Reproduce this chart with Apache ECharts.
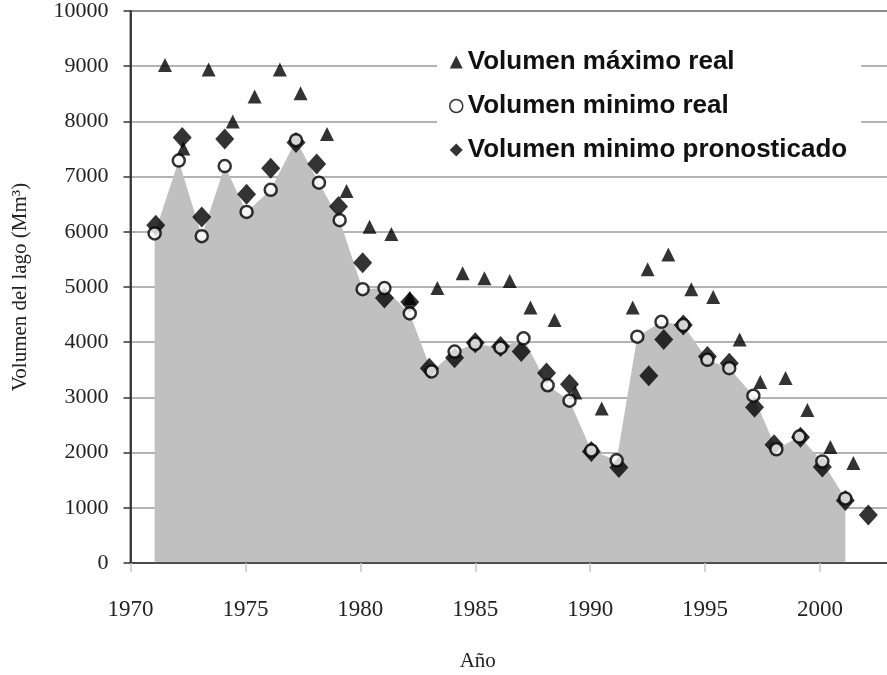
<!DOCTYPE html>
<html>
<head>
<meta charset="utf-8">
<script src="https://cdn.jsdelivr.net/npm/echarts@6/dist/echarts.min.js"></script>
<style>
  html, body { margin: 0; padding: 0; background: #fff; }
  #chart { width: 887px; height: 675px; }
</style>
</head>
<body>
<div id="chart"></div>
<script>
// Volumen máximo real (año decimal, Mm³)
const maxYears = [1971.5, 1972.3, 1973.4, 1974.45, 1975.4, 1976.5, 1977.4, 1978.55, 1979.4, 1980.4,
  1981.35, 1982.15, 1983.35, 1984.45, 1985.4, 1986.5, 1987.4, 1988.45, 1989.35, 1990.5,
  1991.85, 1992.5, 1993.4, 1994.4, 1995.35, 1996.5, 1997.4, 1998.5, 1999.45, 2000.45, 2001.45];
const maxValues = [9020, 7510, 8940, 8000, 8450, 8940, 8510, 7770, 6740, 6090,
  5960, 4800, 4980, 5250, 5160, 5110, 4630, 4400, 3090, 2800,
  4630, 5320, 5590, 4960, 4820, 4050, 3280, 3350, 2770, 2100, 1810];

// Volumen mínimo real
const minYears = [1971.05, 1972.1, 1973.1, 1974.1, 1975.05, 1976.1, 1977.2, 1978.2, 1979.1, 1980.1,
  1981.05, 1982.15, 1983.1, 1984.1, 1985.0, 1986.1, 1987.1, 1988.15, 1989.1, 1990.05,
  1991.15, 1992.05, 1993.1, 1994.05, 1995.1, 1996.05, 1997.1, 1998.1, 1999.1, 2000.1, 2001.1];
const minValues = [5970, 7290, 5920, 7190, 6360, 6760, 7660, 6890, 6210, 4960,
  4980, 4520, 3470, 3830, 3970, 3900, 4070, 3220, 2940, 2040,
  1860, 4100, 4370, 4310, 3680, 3530, 3030, 2060, 2290, 1840, 1170];

// Volumen mínimo pronosticado
const predYears = [1971.1, 1972.25, 1973.1, 1974.1, 1975.05, 1976.1, 1977.2, 1978.1, 1979.05, 1980.1,
  1981.05, 1982.15, 1983.0, 1984.1, 1985.0, 1986.1, 1987.0, 1988.1, 1989.1, 1990.05,
  1991.25, 1992.55, 1993.2, 1994.05, 1995.1, 1996.05, 1997.15, 1998.0, 1999.15, 2000.1,
  2001.1, 2002.1];
const predValues = [6120, 7710, 6270, 7680, 6680, 7150, 7620, 7230, 6460, 5440,
  4800, 4730, 3530, 3720, 3990, 3920, 3830, 3440, 3240, 2020,
  1730, 3390, 4050, 4310, 3740, 3620, 2820, 2140, 2280, 1740,
  1130, 870];

const pairs = (xs, ys) => xs.map((x, i) => [x, ys[i]]);
const maxData = pairs(maxYears, maxValues);
const minData = pairs(minYears, minValues);
const predData = pairs(predYears, predValues);

const serif = "'Liberation Serif', 'DejaVu Serif', serif";
const sans = "'Liberation Sans', Arial, sans-serif";

const chart = echarts.init(document.getElementById('chart'), null, { renderer: 'canvas' });
chart.setOption({
  animation: false,
  backgroundColor: '#fff',
  grid: {
    left: 130.5, right: -2, top: 11, bottom: 112,
    outerBoundsMode: 'none',
    containLabel: false,
    show: true, borderColor: '#666', borderWidth: 2, backgroundColor: 'transparent'
  },
  legend: {
    orient: 'vertical',
    left: 437, top: 39,
    padding: [10, 14, 10, 12],
    backgroundColor: '#fff',
    itemWidth: 13, itemHeight: 13,
    itemGap: 18,
    textStyle: { fontFamily: sans, fontWeight: 'bold', fontSize: 26, lineHeight: 25, color: '#111' },
    data: [
      { name: 'Volumen máximo real' },
      { name: 'Volumen minimo real', itemStyle: { borderWidth: 1.5 } },
      { name: 'Volumen minimo pronosticado' }
    ]
  },
  xAxis: {
    type: 'value',
    min: 1970, max: 2003, interval: 5,
    z: 6,
    name: 'Año',
    nameLocation: 'middle',
    nameGap: 88,
    nameTextStyle: { fontFamily: serif, fontSize: 21, color: '#222', padding: [0, 64, 0, 0] },
    axisLine: { show: true, lineStyle: { color: '#333', width: 1.5 } },
    axisTick: { show: true, length: 9, lineStyle: { color: '#c8c8c8', width: 1.5 } },
    axisLabel: {
      showMaxLabel: false,
      margin: 35,
      fontFamily: serif, fontSize: 23, color: '#222',
      formatter: v => (v % 5 === 0 ? String(v) : '')
    },
    splitLine: { show: false }
  },
  yAxis: {
    type: 'value',
    min: 0, max: 10000, interval: 1000,
    z: 0,
    name: 'Volumen del lago (Mm³)',
    nameLocation: 'middle',
    nameGap: 100,
    nameTextStyle: { fontFamily: serif, fontSize: 21, color: '#222' },
    axisLine: { show: true, lineStyle: { color: '#222', width: 1.5 } },
    axisTick: { show: true, inside: false, length: 7, lineStyle: { color: '#333', width: 1.5 } },
    axisLabel: {
      margin: 22, fontFamily: serif, fontSize: 22, color: '#222',
      formatter: v => String(v)
    },
    splitLine: { show: true, lineStyle: { color: '#9a9a9a', width: 1.5 } }
  },
  series: [
    {
      // shaded area under the minimum observed volume
      type: 'line',
      data: minData,
      symbol: 'none',
      silent: true,
      z: 1,
      lineStyle: { width: 0, color: '#c0c0c0' },
      areaStyle: { color: '#c0c0c0', opacity: 1 }
    },
    {
      name: 'Volumen máximo real',
      type: 'scatter',
      data: maxData,
      symbol: 'triangle',
      symbolSize: [14, 14],
      z: 3,
      itemStyle: { color: '#000' }
    },
    {
      name: 'Volumen minimo pronosticado',
      type: 'scatter',
      data: predData,
      symbol: 'diamond',
      symbolSize: [19, 21],
      z: 4,
      itemStyle: { color: '#000' }
    },
    {
      name: 'Volumen minimo real',
      type: 'scatter',
      data: minData,
      symbol: 'circle',
      symbolSize: 12,
      z: 5,
      itemStyle: { color: '#fff', borderColor: '#000', borderWidth: 2.5 }
    }
  ]
});
</script>
</body>
</html>
